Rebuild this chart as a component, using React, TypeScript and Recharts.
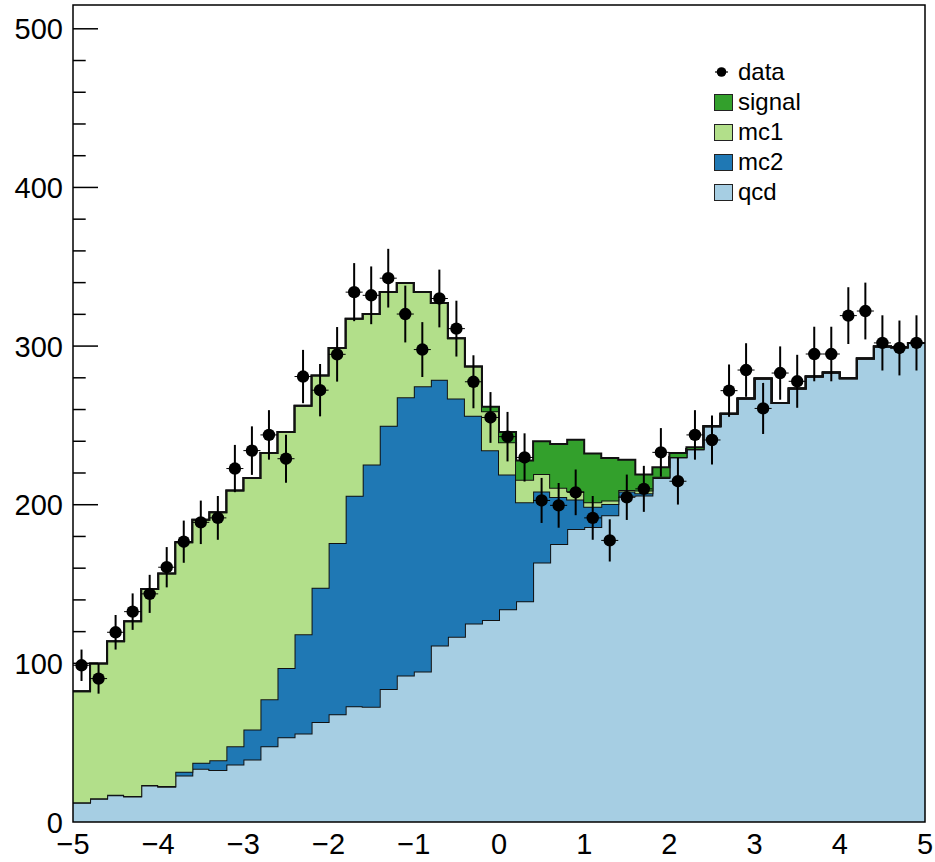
import {
  ComposedChart,
  Area,
  Scatter,
  ErrorBar,
  XAxis,
  YAxis,
  ReferenceArea,
  Legend,
} from 'recharts';

// histogram binning: 50 bins from -5 to 5
const X_MIN = -5;
const X_MAX = 5;
const BIN_WIDTH = 0.2;

// stacked components, per bin
const qcd = [
  12.1, 14.6, 16.9, 16.1, 23.0, 22.2, 29.3, 33.5, 32.7, 36.2,
  39.4, 47.8, 53.4, 55.8, 63.1, 67.9, 73.0, 72.6, 83.9, 92.3,
  94.8, 111.2, 116.7, 125.1, 127.4, 134.1, 139.1, 163.5, 175.3, 184.7,
  186.0, 193.3, 205.6, 205.8, 216.9, 229.9, 234.9, 249.4, 257.4, 266.9,
  279.5, 264.1, 273.2, 280.9, 283.4, 279.7, 292.1, 299.8, 299.2, 302.0,
];
const mc2 = [
  0.3, 0.3, 0.3, 0.3, 0.4, 0.5, 2.3, 3.8, 6.2, 11.6,
  18.9, 29.6, 43.6, 62.5, 84.5, 108.0, 132.7, 152.7, 165.9, 175.4,
  179.8, 167.6, 150.2, 131.0, 107.0, 84.9, 62.5, 44.9, 29.5, 18.6,
  12.7, 7.2, 2.8, 1.4, 0.4, 0.1, 0.1, 0, 0, 0,
  0, 0, 0, 0, 0, 0, 0, 0, 0, 0,
];
const mc1 = [
  70.0, 85.0, 96.7, 110.1, 123.5, 133.9, 144.7, 153.3, 156.3, 161.1,
  158.6, 155.2, 148.9, 144.1, 133.8, 122.9, 111.6, 94.9, 84.3, 72.1,
  59.5, 48.4, 38.0, 31.1, 24.5, 20.3, 14.2, 11.0, 5.9, 5.2,
  2.8, 2.1, 0.9, 1.8, 0.3, 0.1, 0.1, 0, 0, 0,
  0, 0, 0, 0, 0, 0, 0, 0, 0, 0,
];
const signal = [
  0, 0, 0, 0, 0, 0, 0, 0, 0, 0,
  0, 0, 0, 0, 0, 0, 0, 0, 0, 0,
  0, 0, 0, 0, 2.9, 6.6, 12.1, 20.6, 27.6, 32.5,
  30.8, 26.9, 19.1, 10.0, 6.0, 2.5, 1.2, 0, 0, 0,
  0, 0, 0, 0, 0, 0, 0, 0, 0, 0,
];

// observed data and its errors
const observed = [
  98.8, 90.4, 119.6, 132.6, 143.8, 160.6, 176.7, 188.9, 191.7, 222.8,
  234.1, 244.0, 229.0, 280.8, 272.2, 294.8, 334.0, 332.0, 342.8, 320.2,
  297.8, 330.0, 311.0, 277.5, 255.0, 242.9, 229.8, 202.7, 199.6, 207.8,
  191.7, 177.5, 204.7, 210.0, 233.0, 214.8, 244.0, 240.8, 271.9, 284.9,
  260.7, 283.0, 277.8, 295.0, 295.0, 319.2, 322.1, 302.0, 298.8, 302.0,
];
const observedErr = [
  9.9, 9.5, 10.9, 11.5, 12.0, 12.7, 13.3, 13.7, 13.8, 14.9,
  15.3, 15.6, 15.1, 16.8, 16.5, 17.2, 18.3, 18.2, 18.5, 17.9,
  17.3, 18.2, 17.6, 16.7, 16.0, 15.6, 15.2, 14.2, 14.1, 14.4,
  13.8, 13.3, 14.3, 14.5, 15.3, 14.7, 15.6, 15.5, 16.5, 16.9,
  16.1, 16.8, 16.7, 17.2, 17.2, 17.9, 17.9, 17.4, 17.3, 17.4,
];

const xTicks = [-5, -4, -3, -2, -1, 0, 1, 2, 3, 4, 5];
const yTicks = [
  0, 20, 40, 60, 80, 100, 120, 140, 160, 180, 200, 220, 240, 260, 280,
  300, 320, 340, 360, 380, 400, 420, 440, 460, 480, 500,
];
const Y_MAX = 515;

const COLORS = {
  signal: '#33a02c',
  mc1: '#b2df8a',
  mc2: '#1f78b4',
  qcd: '#a6cee3',
};

const legendItems = [
  { name: 'data', color: '#000' },
  { name: 'signal', color: COLORS.signal },
  { name: 'mc1', color: COLORS.mc1 },
  { name: 'mc2', color: COLORS.mc2 },
  { name: 'qcd', color: COLORS.qcd },
];

const FONT = '"Liberation Sans", Arial, Helvetica, sans-serif';
const PLOT_LEFT = 73;

// stack table on bin edges (last edge repeats the last bin for the step)
const stackData = Array.from({ length: qcd.length + 1 }, (_, i) => {
  const j = Math.min(i, qcd.length - 1);
  return {
    x: X_MIN + i * BIN_WIDTH,
    qcd: qcd[j],
    mc2: mc2[j],
    mc1: mc1[j],
    signal: signal[j],
  };
});

const pointData = observed.map((v, i) => ({
  x: X_MIN + (i + 0.5) * BIN_WIDTH,
  y: v,
  err: observedErr[i],
  xErr: BIN_WIDTH / 2,
}));

// the stack covers the first y ticks near the left edge, as in the original
const firstBinTotal = qcd[0] + mc2[0] + mc1[0] + signal[0];

const YTick = (props: any) => {
  const { y, payload } = props;
  const major = payload.value % 100 === 0;
  return (
    <g>
      {payload.value > firstBinTotal && (
        <line
          x1={PLOT_LEFT}
          x2={PLOT_LEFT + (major ? 25 : 12.7)}
          y1={y}
          y2={y}
          stroke="#000"
          strokeWidth={1.5}
        />
      )}
      {major && (
        <text
          x={63}
          y={y + 10.5}
          textAnchor="end"
          fontSize={29}
          fontFamily={FONT}
          fill="#000"
        >
          {payload.value}
        </text>
      )}
    </g>
  );
};

const XTick = (props: any) => {
  const { x, payload } = props;
  const label = payload.value < 0 ? `\u2212${Math.abs(payload.value)}` : `${payload.value}`;
  return (
    <text
      x={x}
      y={854}
      textAnchor="middle"
      fontSize={29}
      fontFamily={FONT}
      fill="#000"
    >
      {label}
    </text>
  );
};

const renderLegend = () => (
  <div style={{ fontFamily: FONT, fontSize: 24, color: '#000' }}>
    {legendItems.map((item) => (
      <div
        key={item.name}
        style={{ height: 30, display: 'flex', alignItems: 'center' }}
      >
        {item.name === 'data' ? (
          <svg width={20} height={16} style={{ marginRight: 4 }}>
            <line x1={1} x2={14} y1={8} y2={8} stroke="#000" strokeWidth={1.2} />
            <circle cx={7.5} cy={8} r={4.8} fill="#000" />
          </svg>
        ) : (
          <div
            style={{
              width: 17,
              height: 15,
              background: item.color,
              border: '1px solid #222',
              marginRight: 5,
            }}
          />
        )}
        <span style={{ lineHeight: '30px' }}>{item.name}</span>
      </div>
    ))}
  </div>
);

export default function App() {
  return (
    <div
      style={{
        position: 'absolute',
        left: 0,
        top: 0,
        width: 935,
        height: 862,
        background: '#fff',
      }}
    >
      <ComposedChart
        width={935}
        height={862}
        data={stackData}
        margin={{ top: 5, right: 10, bottom: 0, left: 13 }}
      >
        <XAxis
          dataKey="x"
          type="number"
          domain={[X_MIN, X_MAX]}
          ticks={xTicks}
          interval={0}
          height={40}
          axisLine={false}
          tickLine={false}
          tick={<XTick />}
          allowDataOverflow
        />
        <YAxis
          type="number"
          domain={[0, Y_MAX]}
          ticks={yTicks}
          interval={0}
          width={60}
          axisLine={false}
          tickLine={false}
          tick={<YTick />}
          allowDataOverflow
        />
        <Area
          type="stepAfter"
          dataKey="qcd"
          stackId="stack"
          fill={COLORS.qcd}
          fillOpacity={1}
          stroke="#111"
          strokeWidth={2}
          dot={false}
          activeDot={false}
          isAnimationActive={false}
        />
        <Area
          type="stepAfter"
          dataKey="mc2"
          stackId="stack"
          fill={COLORS.mc2}
          fillOpacity={1}
          stroke="#111"
          strokeWidth={2}
          dot={false}
          activeDot={false}
          isAnimationActive={false}
        />
        <Area
          type="stepAfter"
          dataKey="mc1"
          stackId="stack"
          fill={COLORS.mc1}
          fillOpacity={1}
          stroke="#111"
          strokeWidth={2}
          dot={false}
          activeDot={false}
          isAnimationActive={false}
        />
        <Area
          type="stepAfter"
          dataKey="signal"
          stackId="stack"
          fill={COLORS.signal}
          fillOpacity={1}
          stroke="#111"
          strokeWidth={2}
          dot={false}
          activeDot={false}
          isAnimationActive={false}
        />
        <ReferenceArea
          x1={X_MIN}
          x2={X_MAX}
          y1={0}
          y2={Y_MAX}
          fill="none"
          stroke="#000"
          strokeWidth={1.5}
          ifOverflow="visible"
        />
        <Scatter
          data={pointData}
          dataKey="y"
          fill="#000"
          isAnimationActive={false}
          shape={(p: any) => <circle cx={p.cx} cy={p.cy} r={6.2} fill="#000" />}
        >
          <ErrorBar dataKey="err" direction="y" width={0} stroke="#000" strokeWidth={2} />
          <ErrorBar dataKey="xErr" direction="x" width={0} stroke="#000" strokeWidth={1} />
        </Scatter>
        <Legend
          layout="vertical"
          align="center"
          verticalAlign="middle"
          content={renderLegend}
          wrapperStyle={{ left: 714, top: 57, width: 140 }}
        />
      </ComposedChart>
    </div>
  );
}
